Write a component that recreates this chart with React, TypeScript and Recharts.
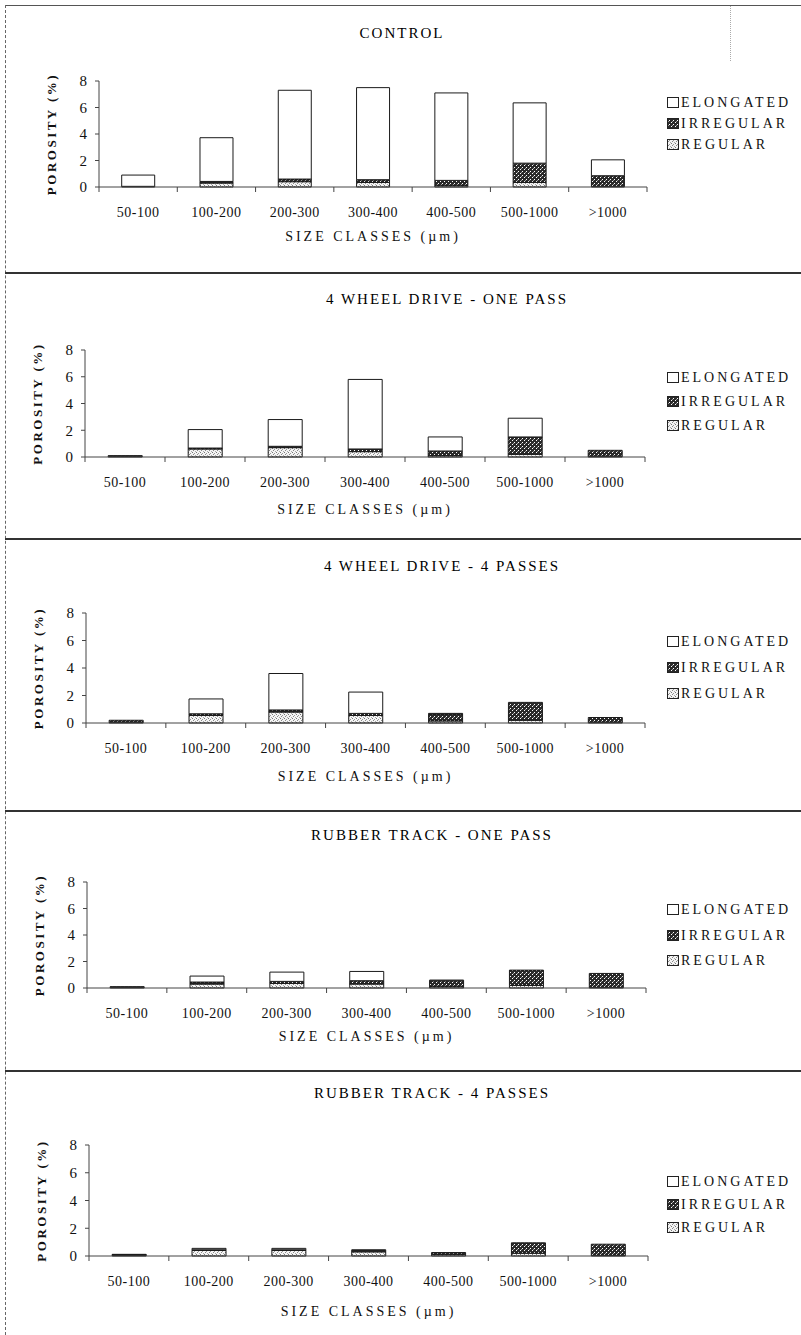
import React from "react";
import { BarChart, Bar, XAxis, YAxis } from "recharts";

const sizeClasses = ["50-100", "100-200", "200-300", "300-400", "400-500", "500-1000", ">1000"];
const yTicks = [0, 2, 4, 6, 8];

// CONTROL
const controlRegular = [0.05, 0.3, 0.4, 0.35, 0.1, 0.35, 0.05];
const controlIrregular = [0, 0.12, 0.2, 0.2, 0.4, 1.45, 0.8];
const controlElongated = [0.85, 3.3, 6.7, 6.95, 6.6, 4.55, 1.2];

// 4 WHEEL DRIVE - ONE PASS
const wd1Regular = [0.05, 0.6, 0.7, 0.4, 0.1, 0.2, 0.05];
const wd1Irregular = [0.05, 0.07, 0.1, 0.2, 0.35, 1.3, 0.45];
const wd1Elongated = [0, 1.38, 2.0, 5.2, 1.05, 1.4, 0];

// 4 WHEEL DRIVE - 4 PASSES
const wd4Regular = [0.05, 0.55, 0.8, 0.55, 0.15, 0.2, 0.05];
const wd4Irregular = [0.15, 0.12, 0.15, 0.15, 0.5, 1.3, 0.35];
const wd4Elongated = [0, 1.08, 2.65, 1.55, 0.05, 0, 0];

// RUBBER TRACK - ONE PASS
const rt1Regular = [0.05, 0.3, 0.35, 0.3, 0.1, 0.2, 0.05];
const rt1Irregular = [0.05, 0.15, 0.15, 0.25, 0.45, 1.15, 1.05];
const rt1Elongated = [0, 0.45, 0.7, 0.7, 0.05, 0, 0];

// RUBBER TRACK - 4 PASSES
const rt4Regular = [0.05, 0.4, 0.4, 0.3, 0.1, 0.2, 0.05];
const rt4Irregular = [0.05, 0.05, 0.05, 0.1, 0.15, 0.75, 0.8];
const rt4Elongated = [0.02, 0.1, 0.1, 0.05, 0, 0, 0];

const FONT = '"Liberation Serif", "DejaVu Serif", serif';
const W = 801;

const build = (reg: number[], irr: number[], elo: number[]) =>
  sizeClasses.map((size, i) => ({ size, regular: reg[i], irregular: irr[i], elongated: elo[i] }));

const panels = [
  {
    title: "CONTROL", data: build(controlRegular, controlIrregular, controlElongated),
    top: 5, bottom: 272, left: 99, right: 647, plotTop: 81, plotBottom: 187,
    titleX: 402, titleY: 33, legendY: [103, 124, 145], xLabelDy: 49,
  },
  {
    title: "4 WHEEL DRIVE - ONE PASS", data: build(wd1Regular, wd1Irregular, wd1Elongated),
    top: 272, bottom: 538, left: 85, right: 645, plotTop: 350, plotBottom: 457,
    titleX: 447, titleY: 299, legendY: [378, 402, 426], xLabelDy: 52,
  },
  {
    title: "4 WHEEL DRIVE - 4 PASSES", data: build(wd4Regular, wd4Irregular, wd4Elongated),
    top: 538, bottom: 810, left: 86, right: 645, plotTop: 613, plotBottom: 723,
    titleX: 442, titleY: 566, legendY: [642, 668, 694], xLabelDy: 53,
  },
  {
    title: "RUBBER TRACK - ONE PASS", data: build(rt1Regular, rt1Irregular, rt1Elongated),
    top: 810, bottom: 1070, left: 87, right: 646, plotTop: 882, plotBottom: 988,
    titleX: 432, titleY: 835, legendY: [910, 936, 961], xLabelDy: 48,
  },
  {
    title: "RUBBER TRACK - 4 PASSES", data: build(rt4Regular, rt4Irregular, rt4Elongated),
    top: 1070, bottom: 1335, left: 89, right: 648, plotTop: 1145, plotBottom: 1256,
    titleX: 432, titleY: 1093, legendY: [1182, 1205, 1228], xLabelDy: 55,
  },
];

const legendItems = [
  { label: "ELONGATED", fill: "#fff" },
  { label: "IRREGULAR", fill: "url(#patIrr)" },
  { label: "REGULAR", fill: "url(#patReg)" },
];

const SizeTick = (props: any) => {
  const { x, y, payload, index, band } = props;
  const last = index === sizeClasses.length - 1;
  return (
    <g>
      <line x1={x - band / 2} x2={x - band / 2} y1={y} y2={y + 5} stroke="#444" />
      {last && <line x1={x + band / 2} x2={x + band / 2} y1={y} y2={y + 5} stroke="#444" />}
      <text x={x} y={y + 25} textAnchor="middle" dominantBaseline="central"
        fontFamily={FONT} fontSize={14} letterSpacing={0.5} fill="#111">
        {payload.value}
      </text>
    </g>
  );
};

const Panel = ({ p }: { p: (typeof panels)[number] }) => {
  const h = p.bottom - p.top;
  const yAxisW = 60;
  const xAxisH = 70;
  const band = (p.right - p.left) / sizeClasses.length;
  return (
    <div style={{ position: "absolute", left: 0, top: p.top, width: W, height: h }}>
      <div style={{
        position: "absolute", left: p.titleX - 200, width: 400, top: p.titleY - p.top - 10,
        textAlign: "center", fontFamily: FONT, fontSize: 15, letterSpacing: 2, color: "#000", lineHeight: "20px",
      }}>{p.title}</div>
      <BarChart
        width={W}
        height={h}
        data={p.data}
        barCategoryGap="29%"
        margin={{
          top: p.plotTop - p.top,
          left: p.left - yAxisW,
          right: W - p.right,
          bottom: p.bottom - p.plotBottom - xAxisH,
        }}
      >
        <XAxis
          dataKey="size"
          height={xAxisH}
          interval={0}
          tickLine={false}
          tickSize={0}
          tickMargin={0}
          axisLine={{ stroke: "#444" }}
          tick={(t: any) => <SizeTick {...t} band={band} />}
          label={{
            value: "SIZE CLASSES (\u00b5m)", position: "insideTop", offset: p.xLabelDy - 5,
            fontFamily: FONT, fontSize: 14, letterSpacing: 3, fill: "#111",
          }}
        />
        <YAxis
          width={yAxisW}
          domain={[0, 8]}
          ticks={yTicks}
          interval={0}
          tickSize={4}
          tickMargin={8}
          axisLine={{ stroke: "#444" }}
          tickLine={{ stroke: "#444" }}
          tick={{ fontFamily: FONT, fontSize: 15, fill: "#111" }}
          label={{
            value: "POROSITY (%)", angle: -90, position: "insideLeft", offset: 12,
            style: { textAnchor: "middle" }, fontFamily: FONT, fontSize: 13, fontWeight: "bold",
            letterSpacing: 2.5, fill: "#111",
          }}
        />
        <Bar dataKey="regular" stackId="a" fill="url(#patReg)" stroke="#1a1a1a" strokeWidth={1} isAnimationActive={false} />
        <Bar dataKey="irregular" stackId="a" fill="url(#patIrr)" stroke="#1a1a1a" strokeWidth={1} isAnimationActive={false} />
        <Bar dataKey="elongated" stackId="a" fill="#fff" stroke="#1a1a1a" strokeWidth={1} isAnimationActive={false} />
      </BarChart>
      {legendItems.map((it, i) => (
        <div key={it.label} style={{
          position: "absolute", left: 667, top: p.legendY[i] - p.top - 9, height: 18,
          display: "flex", alignItems: "center", fontFamily: FONT, fontSize: 14, letterSpacing: 3, color: "#111",
        }}>
          <svg width={13} height={12} style={{ marginRight: 1 }}>
            <rect x={0.5} y={0.5} width={11} height={10} fill={it.fill} stroke="#222" />
          </svg>
          {it.label}
        </div>
      ))}
    </div>
  );
};

export default function App() {
  return (
    <div style={{ position: "absolute", left: 0, top: 0, width: W, height: 1335, background: "#fff", overflow: "hidden" }}>
      <svg width={0} height={0} style={{ position: "absolute" }}>
        <defs>
          <pattern id="patIrr" width={4} height={4} patternUnits="userSpaceOnUse">
            <rect width={4} height={4} fill="#2a2a2a" />
            <rect x={0} y={0} width={1} height={1} fill="#fff" />
            <rect x={2} y={2} width={1} height={1} fill="#fff" />
            <rect x={1} y={3} width={1} height={1} fill="#999" />
          </pattern>
          <pattern id="patReg" width={4} height={4} patternUnits="userSpaceOnUse">
            <rect width={4} height={4} fill="#f4f4f4" />
            <rect x={0} y={0} width={1} height={1} fill="#777" />
            <rect x={2} y={1} width={1} height={1} fill="#999" />
            <rect x={1} y={2} width={1} height={1} fill="#888" />
            <rect x={3} y={3} width={1} height={1} fill="#aaa" />
          </pattern>
        </defs>
      </svg>
      {panels.map((p) => <Panel key={p.title} p={p} />)}
      {/* frame and panel dividers */}
      <div style={{ position: "absolute", left: 5, top: 5, width: W - 5, borderTop: "1px solid #555" }} />
      <div style={{ position: "absolute", left: 5, top: 5, height: 1330, borderLeft: "1px dashed #666" }} />
      <div style={{ position: "absolute", left: 730, top: 6, height: 55, borderLeft: "1px dotted #aaa" }} />
      {panels.slice(1).map((p) => (
        <div key={p.title + "-line"} style={{ position: "absolute", left: 5, top: p.top, width: W - 5, borderTop: "2px solid #333" }} />
      ))}
    </div>
  );
}
